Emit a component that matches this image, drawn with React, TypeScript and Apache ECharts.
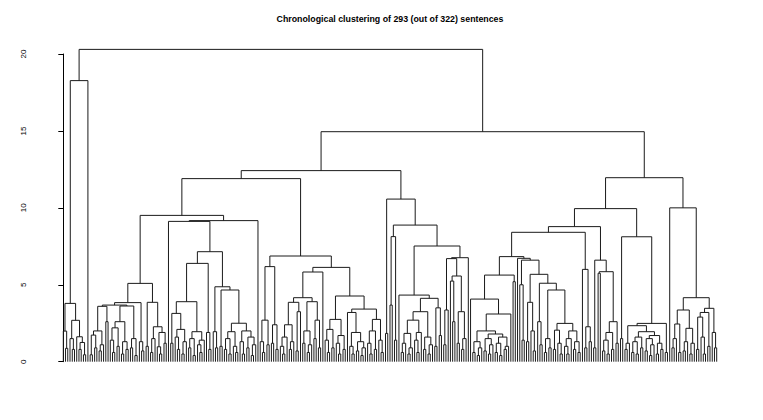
import React, { useEffect, useRef } from "react";
import * as echarts from "echarts";

const TITLE = "Chronological clustering of 293 (out of 322) sentences";
const yTicks = [0, 5, 10, 15, 20];

// Merge height between adjacent leaves i and i+1 (chronological order, 293 leaves)
const gapsA = [1.99, 0.87, 3.79, 1.5, 0.8, 2.69, 1.62, 0.8, 1.25, 0.45, 18.27, 20.3];
const gapsB = [
  0.45, 1.73, 0.9, 2.0, 0.7, 1.1, 3.6, 2.6, 3.68, 1.4, 0.6, 2.2, 1.0, 2.6, 0.5, 1.3, 0.8, 3.62,
  0.9, 1.5, 0.4, 3.84, 1.3, 0.7, 5.09, 1.0, 3.86, 0.6, 1.5, 2.27, 0.97, 0.5, 1.9, 1.2, 9.51,
];
const gapsC = [
  9.12, 1.2, 3.14, 1.6, 0.8, 2.1, 0.5, 1.3, 3.9, 0.9, 1.5, 0.4, 1.95, 1.1, 0.6, 1.4, 6.39, 1.9,
  0.8, 7.15, 1.95, 0.9, 4.87, 1.0, 4.66, 0.8, 1.5, 0.5, 1.95, 1.0, 0.6, 2.5, 1.3, 0.5, 2.0, 0.9,
  1.6, 0.4, 1.1, 9.17, 11.9,
];
const gapsD = [
  1.3, 0.6, 2.7, 1.1, 6.18, 1.2, 2.4, 0.8, 6.87, 1.0, 0.5, 1.6, 2.4, 0.8, 1.3, 3.86, 0.7, 3.25,
  4.16, 1.2, 2.0, 0.6, 1.1, 3.9, 1.5, 2.7, 0.9, 5.83, 6.13, 1.4, 0.6, 2.1, 0.9, 2.75, 1.2, 0.5,
  1.7, 0.8, 4.27, 3.2, 1.0, 0.5, 1.9, 0.7, 1.3, 0.4, 0.9, 3.42, 1.2, 0.5, 2.0, 0.8, 2.75, 1.4,
  0.6, 12.42,
];
const gapsE = [
  1.84, 10.57, 3.68, 8.13, 1.4, 8.88, 4.33, 0.6, 1.2, 1.84, 0.5, 0.9, 2.7, 1.4, 0.6, 1.9, 3.25,
  0.8, 1.6, 0.5, 1.1, 4.12, 1.0, 3.5, 1.7, 7.52, 1.1, 3.36, 6.7, 5.24, 2.6, 5.57, 1.2, 3.25, 0.8,
  1.5, 6.76, 14.95,
];
const gapsF = [
  4.07, 0.6, 1.3, 0.4, 0.9, 2.0, 0.7, 1.5, 0.5, 1.1, 1.8, 0.6, 1.2, 0.4, 1.6, 0.8, 1.0, 3.1, 5.63,
  5.2, 6.83, 6.72, 5.0, 1.4, 6.6, 1.3, 3.86, 2.0, 0.7, 5.68, 2.6, 1.1, 5.1, 0.6, 1.5, 0.9, 4.66,
  0.8, 2.05, 1.2, 0.5, 2.49, 1.0, 0.5, 1.5, 2.0, 0.8, 1.3, 0.6, 8.41, 6.0, 0.9, 2.27, 1.3, 8.78,
];
const gapsG = [
  0.9, 6.6, 5.75, 5.85, 0.7, 1.4, 0.5, 1.9, 0.8, 2.6, 1.2, 9.95, 1.5, 8.12, 0.8, 1.2, 2.34, 0.6,
  1.3, 0.5, 1.6, 0.9, 1.95, 0.7, 1.5, 0.4, 1.1, 1.7, 0.5, 1.2, 0.8, 2.49, 0.6, 11.96,
];
const gapsH = [
  10.0, 0.9, 1.5, 2.45, 0.6, 3.36, 0.7, 1.3, 2.17, 0.5, 1.2, 4.16, 0.8, 2.9, 1.6, 0.5, 3.2, 1.0,
  3.47, 1.9, 0.9,
];

const gaps = [...gapsA, ...gapsB, ...gapsC, ...gapsD, ...gapsE, ...gapsF, ...gapsG, ...gapsH];
const nLeaves = gaps.length + 1;

type Node = { x: number; h: number };

function build(a: number, b: number, out: number[][]): Node {
  if (a === b) return { x: a, h: 0 };
  let k = a;
  for (let i = a; i < b; i++) if (gaps[i] > gaps[k]) k = i;
  const L = build(a, k, out);
  const R = build(k + 1, b, out);
  const h = gaps[k];
  out.push([L.x, L.h, R.x, R.h, h]);
  return { x: (L.x + R.x) / 2, h };
}

export default function App() {
  const ref = useRef<HTMLDivElement>(null);
  useEffect(() => {
    if (!ref.current) return;
    const chart = echarts.init(ref.current, undefined, { renderer: "svg" });
    const links: number[][] = [];
    build(0, nLeaves - 1, links);
    chart.setOption({
      animation: false,
      backgroundColor: "#ffffff",
      title: {
        text: TITLE,
        left: 385,
        top: 9,
        textAlign: "center",
        textStyle: {
          fontFamily: "Liberation Sans, Arial, sans-serif",
          fontSize: 8.8,
          fontWeight: "bold",
          color: "#000",
        },
      },
      grid: { left: 63.3, right: 46.3, top: 54, bottom: 58.3, containLabel: false },
      xAxis: { type: "value", min: 0, max: nLeaves - 1, show: false },
      yAxis: {
        type: "value",
        min: yTicks[0],
        max: yTicks[yTicks.length - 1],
        interval: 5,
        offset: 26.8,
        axisLine: { show: true, lineStyle: { color: "#000", width: 1 } },
        axisTick: { show: true, length: 5, lineStyle: { color: "#000", width: 1 } },
        axisLabel: {
          rotate: 90,
          fontSize: 8,
          margin: 9,
          color: "#000",
          fontFamily: "Liberation Sans, Arial, sans-serif",
        },
        splitLine: { show: false },
      },
      series: [
        {
          type: "custom",
          clip: false,
          data: links,
          encode: { x: [0, 2], y: [1, 3, 4] },
          renderItem: (_params: any, api: any) => {
            const p1 = api.coord([api.value(0), api.value(1)]);
            const p2 = api.coord([api.value(0), api.value(4)]);
            const p3 = api.coord([api.value(2), api.value(4)]);
            const p4 = api.coord([api.value(2), api.value(3)]);
            return {
              type: "polyline",
              shape: { points: [p1, p2, p3, p4] },
              style: { stroke: "#1a1a1a", lineWidth: 1, fill: null },
            };
          },
        },
      ],
    });
    return () => chart.dispose();
  }, []);
  return (
    <div
      ref={ref}
      style={{ position: "fixed", left: 0, top: 0, width: 763, height: 420, background: "#fff" }}
    />
  );
}
